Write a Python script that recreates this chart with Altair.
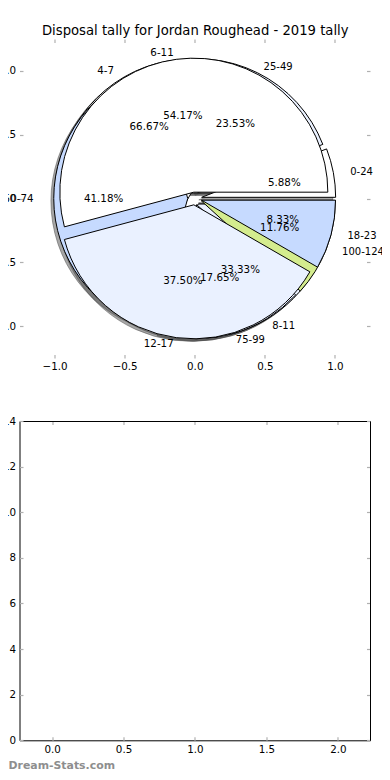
import math
import pandas as pd
import altair as alt

# ---------------- data ----------------
title_text = "Disposal tally for Jordan Roughead - 2019 tally"
pie_a_labels = ["4-7", "8-11"]
pie_a_counts = [2, 1]
pie_b_labels = ["0-24", "25-49", "50-74", "75-99", "100-124"]
pie_b_counts = [1, 4, 7, 3, 2]
pie_c_labels = ["6-11", "12-17", "18-23"]
pie_c_counts = [13, 9, 2]
wedge_colors = ["#ffffff", "#eaf1ff", "#c6daff", "#e4edff", "#d4ec8e"]
top_ticks = [-1.0, -0.5, 0.0, 0.5, 1.0]
bottom_x_ticks = [0.0, 0.5, 1.0, 1.5, 2.0]
bottom_y_ticks = [0, 2, 4, 6, 8, 10, 12, 14]
watermark = "Dream-Stats.com"

rows = []
for pie_idx, (labels, counts) in enumerate(
    [(pie_a_labels, pie_a_counts), (pie_b_labels, pie_b_counts), (pie_c_labels, pie_c_counts)]
):
    total = sum(counts)
    cum = 0
    for i, (lab, c) in enumerate(zip(labels, counts)):
        rows.append(dict(pie=pie_idx, label=lab, count=c,
                         f0=cum / total, f1=(cum + c) / total,
                         color=wedge_colors[i % len(wedge_colors)],
                         pct=f"{100 * c / total:.2f}%"))
        cum += c
df = pd.DataFrame(rows)
blank = pd.DataFrame({"bx": [bottom_x_ticks[0]], "by": [bottom_y_ticks[0]]})

# ---------------- layout ----------------
W, H = 350.5, 701.3
TOP_H = 319.0
BOT_TOP = 382.0
FONT = "DejaVu Sans"
TICK_COLOR = "#b0b0b0"
EXPL = 0.05
R = 134
PAD_L, PAD_T, PAD_R, PAD_B = 11.5, 31.0, 12.0, 29.7

xs_top = alt.Scale(domain=[-1.25, 1.25], range=[0, W], nice=False, zero=False)
ys_top = alt.Scale(domain=[-1.25, 1.25], range=[TOP_H, 0], nice=False, zero=False)
xs_bot = alt.Scale(domain=[-0.228, 2.225], range=[0, W], nice=False, zero=False)
ys_bot = alt.Scale(domain=[0, 14], range=[H, BOT_TOP], nice=False, zero=False)
th_scale = alt.Scale(domain=[0, 1], range=[2.5 * math.pi, 0.5 * math.pi])


def axis(values, orient, offset=0.0, labels=False, ticks=False, domain=False, fmt=".1f",
         title=None, pad=3.5, **extra):
    return alt.Axis(values=values, orient=orient, offset=offset, labels=labels, ticks=ticks,
                    domain=domain, grid=False, title=title, format=fmt,
                    tickColor=TICK_COLOR, tickSize=3.5, tickWidth=1.2,
                    domainColor="black", domainWidth=1,
                    labelFont=FONT, labelFontSize=10.3, labelColor="black",
                    labelPadding=pad, labelFlush=False, labelOverlap=False, **extra)


base = alt.Chart(df).transform_calculate(
    mid="PI*(datum.f0+datum.f1)",
    cx=f"{EXPL}*cos(datum.mid)",
    cy=f"{EXPL}*sin(datum.mid)",
    sx="datum.cx-0.02",
    sy="datum.cy-0.02",
    px="datum.cx+0.6*cos(datum.mid)",
    py="datum.cy+0.6*sin(datum.mid)",
    lx="datum.cx+1.1*cos(datum.mid)",
    ly="datum.cy+1.1*sin(datum.mid)",
)

theta = alt.Theta("f0:Q", scale=th_scale, stack=None)
theta2 = alt.Theta2("f1:Q")

shadows = base.mark_arc(outerRadius=R, fill="#4d4d4d", fillOpacity=0.5,
                        stroke="#4d4d4d", strokeOpacity=0.5, strokeWidth=1).encode(
    x=alt.X("sx:Q", scale=xs_top,
            axis=axis(top_ticks, "bottom", offset=TOP_H - H, labels=True)),
    y=alt.Y("sy:Q", scale=ys_top,
            axis=axis(top_ticks, "left", labels=True, pad=4)),
    theta=theta, theta2=theta2,
)

wedges = base.mark_arc(outerRadius=R, stroke="black", strokeWidth=1).encode(
    x=alt.X("cx:Q", scale=xs_top,
            axis=axis(top_ticks, "bottom", offset=-H, ticks=True,
                      title=title_text, titleFont=FONT, titleFontSize=13.2,
                      titleFontWeight="normal", titleColor="black",
                      titleAlign="center", titleAnchor="middle",
                      titleBaseline="alphabetic", titleX=W / 2, titleY=-4.7)),
    y=alt.Y("cy:Q", scale=ys_top, axis=axis(top_ticks, "right", offset=-W, ticks=True)),
    theta=theta, theta2=theta2,
    color=alt.Color("color:N", scale=None),
)

pcts = base.mark_text(font=FONT, fontSize=10.3, color="black", align="center",
                      baseline="middle").encode(
    x=alt.X("px:Q", scale=xs_top, axis=axis(top_ticks, "top", offset=-TOP_H, ticks=True)),
    y=alt.Y("py:Q", scale=ys_top, axis=axis(top_ticks, "left", offset=-W, ticks=True)),
    text="pct:N",
)

labels_left = base.transform_filter("datum.lx <= 0").mark_text(
    font=FONT, fontSize=10.3, color="black", align="right", baseline="middle").encode(
    x=alt.X("lx:Q", scale=xs_top, axis=None),
    y=alt.Y("ly:Q", scale=ys_top, axis=None),
    text="label:N",
)
labels_right = base.transform_filter("datum.lx > 0").mark_text(
    font=FONT, fontSize=10, color="black", align="left", baseline="middle", dx=-3).encode(
    x=alt.X("lx:Q", scale=xs_top, axis=None),
    y=alt.Y("ly:Q", scale=ys_top, axis=None),
    text="label:N",
)

bot1 = alt.Chart(blank).mark_point(opacity=0).encode(
    x=alt.X("bx:Q", scale=xs_bot,
            axis=axis(bottom_x_ticks, "bottom", labels=True, domain=True, pad=4,
                      title=watermark, titleFont=FONT, titleFontSize=10.9,
                      titleFontWeight="bold", titleColor="#8e8e8e",
                      titleAnchor="start", titleAlign="left", titleBaseline="alphabetic",
                      titleX=-PAD_L, titleY=27.7)),
    y=alt.Y("by:Q", scale=ys_bot,
            axis=axis(bottom_y_ticks, "left", labels=True, domain=True, fmt="d", pad=4)),
)
bot2 = alt.Chart(blank).mark_point(opacity=0).encode(
    x=alt.X("bx:Q", scale=xs_bot, axis=axis(bottom_x_ticks, "top", offset=-H, ticks=True)),
    y=alt.Y("by:Q", scale=ys_bot, axis=axis(bottom_y_ticks, "right", offset=-W, ticks=True,
                                            fmt="d")),
)
bot3 = alt.Chart(blank).mark_point(opacity=0).encode(
    x=alt.X("bx:Q", scale=xs_bot, axis=axis(bottom_x_ticks, "bottom", offset=BOT_TOP - H,
                                            ticks=True, domain=True)),
    y=alt.Y("by:Q", scale=ys_bot, axis=axis(bottom_y_ticks, "left", offset=-W, ticks=True,
                                            domain=True, fmt="d")),
)

chart = alt.layer(
    shadows, wedges, pcts, labels_left, labels_right, bot1, bot2, bot3
).resolve_scale(
    x="independent", y="independent", theta="independent"
).resolve_axis(
    x="independent", y="independent"
).properties(
    width=W, height=H,
    autosize=alt.AutoSizeParams(type="none"),
    padding={"left": PAD_L, "top": PAD_T, "right": PAD_R, "bottom": PAD_B},
).configure_view(stroke=None)

chart.save("out.html", embed_options={"renderer": "svg", "actions": False})
